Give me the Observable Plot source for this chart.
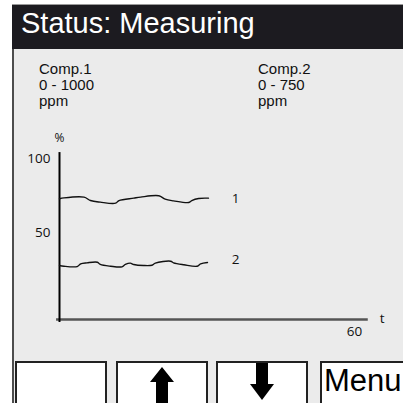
<!DOCTYPE html>
<html><head><meta charset="utf-8">
<script src="https://cdn.jsdelivr.net/npm/d3@7"></script>
<script src="https://cdn.jsdelivr.net/npm/@observablehq/plot@0.6"></script>
<style>
html,body{margin:0;padding:0;background:#fff;}
#screen{position:relative;width:403px;height:403px;overflow:hidden;background:#fff;font-family:"Liberation Sans",Arial,sans-serif;color:#111;}
#panel{position:absolute;left:12px;top:5px;width:391px;height:398px;background:#ebebeb;border-left:2px solid #4d4d4d;box-sizing:border-box;}
#bar{position:absolute;left:12px;top:4px;width:391px;height:45px;background:#1c1b20;border-top:1px solid #9a9a9a;box-sizing:border-box;}
#title{position:absolute;left:21px;top:9px;color:#fff;font-size:29px;line-height:29px;white-space:nowrap;}
.comp{position:absolute;top:61px;font-size:15px;line-height:16px;white-space:nowrap;}
.btn{position:absolute;top:361px;height:60px;background:#fff;border:2px solid #222;box-sizing:border-box;}
#menu{font-size:31px;line-height:31px;padding-left:2px;padding-top:2px;color:#000;white-space:nowrap;}
#chart{position:absolute;left:0;top:0;}
.arrow{position:absolute;}
</style>
</head><body>
<div id="screen">
  <div id="panel"></div>
  <div id="bar"></div>
  <div id="title"></div>
  <div class="comp" id="comp1" style="left:39px"></div>
  <div class="comp" id="comp2" style="left:258px"></div>
  <div class="btn" style="left:15px;width:92px"></div>
  <div class="btn" style="left:116px;width:92px"></div>
  <div class="btn" style="left:216px;width:92px"></div>
  <div class="btn" id="menu" style="left:320px;width:100px"></div>
  <svg class="arrow" style="left:0;top:0" width="403" height="403">
    <polygon points="162,367 174,382 168,382 168,403 156,403 156,382 150,382" fill="#000"/>
    <polygon points="262,400 274,384 268,384 268,363 256,363 256,384 250,384" fill="#000"/>
  </svg>
  <div id="chart"></div>
</div>
<script>
const titleText = "Status: Measuring";
const compLabels = [["Comp.1", "0 - 1000", "ppm"], ["Comp.2", "0 - 750", "ppm"]];
const menuText = "Menu";

const t1 = [0, 0.9, 5.0, 6.3, 8.3, 11.4, 12.1, 15.1, 16.5, 20.2, 21.5, 23.2, 26.3, 26.9, 28.3, 30.3];
const v1 = [72.8, 73.4, 73.9, 71.6, 70.5, 69.8, 71.6, 73.2, 73.9, 74.8, 72.5, 71.4, 70.3, 71.6, 73.0, 73.2];
const t2 = [0, 0.9, 3.6, 4.3, 5.6, 7.7, 8.3, 10.4, 12.7, 13.4, 14.4, 15.1, 17.1, 18.8, 19.5, 22.6, 23.2, 25.3, 28.0, 28.7, 30.1];
const v2 = [27.7, 27.2, 27.0, 28.8, 29.5, 29.9, 28.4, 27.2, 26.8, 28.4, 29.3, 28.4, 27.7, 27.9, 29.3, 30.6, 29.5, 28.2, 27.2, 28.8, 29.7];
const seriesNames = ["1", "2"];
const seriesLabelY = [73, 31.8];
const yTicks = [50, 100];
const xTicks = [60];
const yUnit = "%";
const xUnit = "t";

document.getElementById("title").textContent = titleText;
document.getElementById("comp1").innerHTML = compLabels[0].join("<br>");
document.getElementById("comp2").innerHTML = compLabels[1].join("<br>");
document.getElementById("menu").textContent = menuText;

const s1 = t1.map((t, i) => ({t, v: v1[i]}));
const s2 = t2.map((t, i) => ({t, v: v2[i]}));
const lbls = seriesNames.map((n, i) => ({n, v: seriesLabelY[i]}));

const chart = Plot.plot({
  width: 403, height: 403,
  marginLeft: 59, marginRight: 49, marginTop: 158, marginBottom: 97,
  x: {domain: [0, 60], axis: null},
  y: {domain: [0, 100], axis: null},
  style: {background: "transparent", fontFamily: "'Open Sans', sans-serif", fontSize: "13.5px", color: "#111", overflow: "visible"},
  marks: [
    Plot.ruleY([-8.8], {x1: -0.6, x2: 62.8, stroke: "#555", strokeWidth: 2.3}),
    Plot.ruleX([0], {y1: 104, y2: -10.8, stroke: "#000", strokeWidth: 2}),
    Plot.line(s1, {x: "t", y: "v", curve: "catmull-rom", stroke: "#111", strokeWidth: 1.4}),
    Plot.line(s2, {x: "t", y: "v", curve: "catmull-rom", stroke: "#111", strokeWidth: 1.4}),
    Plot.text(yTicks, {x: 0, y: d => d, text: d => String(d), textAnchor: "end", dx: -9, fill: "#111"}),
    Plot.text(xTicks, {x: d => d, y: -16.7, text: d => String(d), fill: "#111"}),
    Plot.text([yUnit], {x: 0, y: 114, text: d => d, fontSize: 12, fill: "#111"}),
    Plot.text([xUnit], {x: 65.6, y: -8.2, text: d => d, fill: "#111"}),
    Plot.text(lbls, {x: 35.8, y: "v", text: "n", fill: "#111"})
  ]
});
document.getElementById("chart").appendChild(chart);
</script>
</body></html>
